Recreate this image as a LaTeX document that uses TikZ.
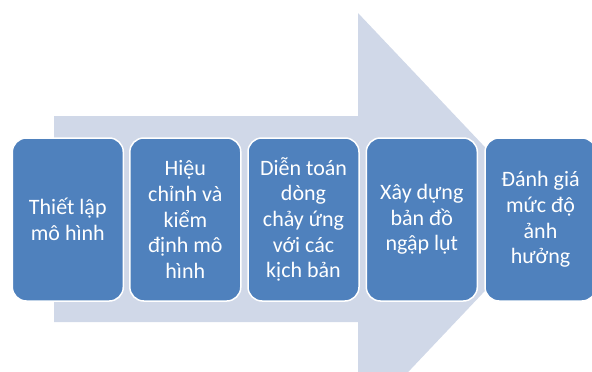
\documentclass[tikz,border=0pt]{standalone}
\usepackage{fontspec}
\setmainfont{Carlito}
\definecolor{boxblue}{HTML}{4F81BD}
\definecolor{arrowfill}{HTML}{D0D8E8}
\tikzset{
  stepbox/.style={draw=white, line width=1.5pt, fill=boxblue, rounded corners=14pt,
    minimum width=111pt, minimum height=163pt, text=white, align=center,
    inner sep=0pt, font=\fontsize{22}{25.7}\selectfont}
}
\begin{document}
\begin{tikzpicture}[x=1pt,y=-1pt]
\useasboundingbox (0,0) rectangle (592,372);
\clip (0,0) rectangle (592,372);
\fill[arrowfill] (54,116) -- (358,116) -- (358,13) -- (553,219) -- (358,425) -- (358,322) -- (54,322) -- cycle;
\node[stepbox] (b1) at (67.8,219.5) {Thiết lập\\mô hình};
\node[stepbox] (b2) at (185.3,219.5) {Hiệu\\chỉnh và\\kiểm\\định mô\\hình};
\node[stepbox] (b3) at (303.5,219.5) {Diễn toán\\dòng\\chảy ứng\\với các\\kịch bản};
\node[stepbox] (b4) at (421.8,219.5) {Xây dựng\\bản đồ\\ngập lụt};
\node[stepbox] (b5) at (540.5,219.5) {Đánh giá\\mức độ\\ảnh\\hưởng};
\end{tikzpicture}
\end{document}
